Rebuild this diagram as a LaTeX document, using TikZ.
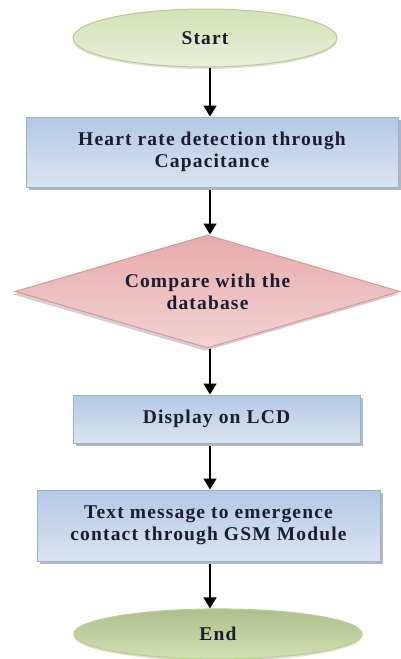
\documentclass[tikz,border=0pt]{standalone}
\usepackage{fontspec}
\newfontfamily\lblfont[LetterSpace=6]{Liberation Serif}
\usetikzlibrary{shapes.geometric,arrows.meta,shadows}
\definecolor{txt}{HTML}{1C1C30}
\definecolor{boxtop}{HTML}{B3C8E4}
\definecolor{boxbot}{HTML}{DAE4F1}
\definecolor{boxline}{HTML}{95B3D7}
\definecolor{dtop}{HTML}{E6ABAB}
\definecolor{dbot}{HTML}{F3D3D3}
\definecolor{dline}{HTML}{D99694}
\definecolor{stop}{HTML}{D3E1B6}
\definecolor{sbot}{HTML}{E9F0DA}
\definecolor{sline}{HTML}{B7CC8E}
\definecolor{etop}{HTML}{AEBF8C}
\definecolor{ebot}{HTML}{D3DFB5}
\definecolor{eline}{HTML}{B9D08C}
\tikzset{
  lbl/.style={font=\lblfont\bfseries\fontsize{19.5}{22}\selectfont, text=txt, align=center, inner sep=0pt},
  shad/.style={drop shadow={shadow xshift=3pt, shadow yshift=-3pt, fill=black!40, opacity=.7}},
  procbox/.style={lbl, rectangle, draw=boxline, line width=1pt, top color=boxtop, bottom color=boxbot, shad},
  startell/.style={lbl, ellipse, draw=sline, line width=1pt, top color=stop, bottom color=sbot, drop shadow={shadow xshift=0pt, shadow yshift=-2pt, fill=black!20, opacity=.6}},
  endell/.style={lbl, ellipse, draw=eline, line width=1.2pt, top color=etop, bottom color=ebot, drop shadow={shadow xshift=0pt, shadow yshift=-2pt, fill=black!20, opacity=.6}},
  decide/.style={lbl, diamond, aspect=3.4, draw=dline, line width=1pt, top color=dtop, bottom color=dbot, drop shadow={shadow xshift=-2pt, shadow yshift=-3pt, fill=black!30, opacity=.6}},
  arr/.style={draw=black, line width=1.6pt, -{Triangle[width=13pt,length=11pt]}}
}
\begin{document}
\begin{tikzpicture}[x=1pt,y=-1pt]
\useasboundingbox (0,0) rectangle (401,659);
\coordinate (ax) at (210,0);
\node[startell, minimum width=264pt, minimum height=58pt] (start) at (205,38) {Start};
\node[procbox, minimum width=372pt, minimum height=70pt] (detect) at (212,152) {Heart rate detection through\\Capacitance};
\node[decide, minimum width=385pt, minimum height=113pt] (compare) at (207.5,291.5) {Compare with the\\database};
\node[procbox, minimum width=287pt, minimum height=48pt] (display) at (216.5,419) {Display on LCD};
\node[procbox, minimum width=343pt, minimum height=71pt] (sms) at (208.5,525.5) {Text message to emergence\\contact through GSM Module};
\node[endell, minimum width=288pt, minimum height=50pt] (end) at (218,634) {End};
\draw[arr] (start.south -| ax) -- (detect.north -| ax);
\draw[arr] ([yshift=-2pt]detect.south -| ax) -- (compare.north -| ax);
\draw[arr] (compare.south -| ax) -- (display.north -| ax);
\draw[arr] ([yshift=-2pt]display.south -| ax) -- (sms.north -| ax);
\draw[arr] ([yshift=-2pt]sms.south -| ax) -- (end.north -| ax);
\end{tikzpicture}
\end{document}
